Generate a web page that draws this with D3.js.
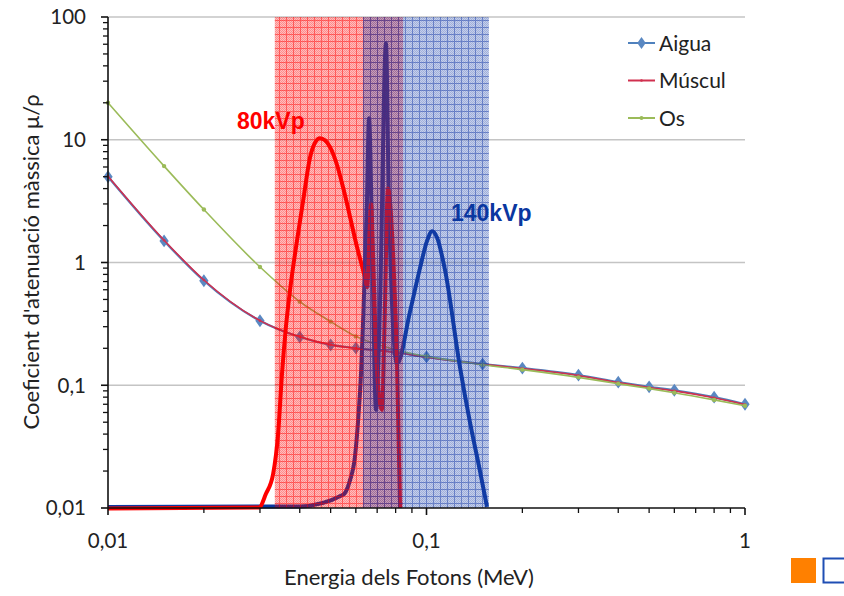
<!DOCTYPE html>
<html lang="ca">
	<head>
		<meta charset="utf-8">
		<title>Coeficient d'atenuació</title>
		<script src="https://d3js.org/d3.v7.min.js"></script>
		<style type="text/css">
			body, html {
				margin: 0;
				background: #fff;
			}
			svg {
				display: block;
			}
			.tick text, .axis-title, .legend text {
				font-family: Lato, "Open Sans", sans-serif;
				fill: #222;
			}
		</style>
	</head>
	<body>
		<svg width="844" height="596"></svg>
		<script type="text/javascript">
		// energies (MeV) of the NIST-style table points
		var energies = [0.01, 0.015, 0.02, 0.03, 0.04, 0.05, 0.06, 0.08, 0.1, 0.15, 0.2, 0.3, 0.4, 0.5, 0.6, 0.8, 1];
		var aigua  = [5.0, 1.5, 0.71, 0.335, 0.247, 0.213, 0.201, 0.186, 0.170, 0.149, 0.138, 0.121, 0.106, 0.097, 0.091, 0.080, 0.070];
		var muscul = [5.05, 1.52, 0.72, 0.336, 0.248, 0.214, 0.200, 0.185, 0.169, 0.148, 0.137, 0.120, 0.105, 0.096, 0.090, 0.079, 0.0695];
		var os     = [20, 6.1, 2.7, 0.92, 0.48, 0.33, 0.25, 0.195, 0.172, 0.147, 0.134, 0.116, 0.103, 0.094, 0.087, 0.076, 0.068];

		// 80 kVp spectrum (arbitrary scale)
		var spec80E = [0.01, 0.0298, 0.0313, 0.0330, 0.0342, 0.0352, 0.0362, 0.0373, 0.0392, 0.041, 0.0431, 0.0447, 0.0463, 0.048, 0.0498, 0.0524, 0.0547, 0.0605, 0.0641, 0.0651, 0.0670, 0.0679, 0.0694, 0.0715, 0.0725, 0.0738, 0.0757, 0.0785, 0.0808, 0.0826];
		var spec80V = [0.0099, 0.0101, 0.013, 0.019, 0.04, 0.126, 0.3, 0.6, 1.5, 3.2, 7.2, 9.5, 10.3, 9.9, 8.7, 6.2, 4.1, 1.34, 0.75, 0.63, 3.0, 1.2, 0.2, 0.07, 0.063, 0.3, 4.0, 1.2, 0.15, 0.01];

		// 140 kVp spectrum
		var spec140E = [0.01, 0.04, 0.0547, 0.0575, 0.0596, 0.0609, 0.0623, 0.0634, 0.0650, 0.0660, 0.0675, 0.0694, 0.0715, 0.0746, 0.0762, 0.0808, 0.0888, 0.0954, 0.1004, 0.1041, 0.1079, 0.1143, 0.1274, 0.1369, 0.1472, 0.1549];
		var spec140V = [0.0102, 0.0103, 0.0128, 0.0168, 0.026, 0.049, 0.126, 0.4, 3, 15, 1.5, 0.063, 0.5, 61, 3, 0.15, 0.4, 0.9, 1.5, 1.8, 1.6, 0.87, 0.14, 0.05, 0.02, 0.0102];

		// energy windows of the two beams
		var band80 = [0.0334, 0.0844];
		var band140 = [0.0632, 0.157];

		var yTicks = [0.01, 0.1, 1, 10, 100];
		var yTickLabels = ["0,01", "0,1", "1", "10", "100"];
		var xTicks = [0.01, 0.1, 1];
		var xTickLabels = ["0,01", "0,1", "1"];

		var seriesNames = ["Aigua", "Múscul", "Os"];
		var seriesColors = ["#4f81bd", "#d0304f", "#9bbb59"];

		var svg = d3.select("svg");

		var x = d3.scaleLog().domain([0.01, 1]).range([108, 745]);
		var y = d3.scaleLog().domain([0.01, 100]).range([508, 17]);

		// minor ticks 2..9 per decade
		function minorTicks(lo, hi) {
			var t = [];
			for (var p = Math.log10(lo); p < Math.log10(hi); p++) {
				for (var m = 2; m <= 9; m++) t.push(m * Math.pow(10, p));
			}
			return t;
		}

		// patterns for the shaded energy windows
		var defs = svg.append("defs");
		function makePatterns(id, base, dot, line) {
			var chk = defs.append("pattern")
				.attr("id", id + "Chk")
				.attr("patternUnits", "userSpaceOnUse")
				.attr("width", 2).attr("height", 2);
			chk.append("rect").attr("width", 2).attr("height", 2).attr("fill", base);
			chk.append("rect").attr("x", 0).attr("y", 0).attr("width", 1).attr("height", 1).attr("fill", dot);
			chk.append("rect").attr("x", 1).attr("y", 1).attr("width", 1).attr("height", 1).attr("fill", dot);
			var grid = defs.append("pattern")
				.attr("id", id + "Grid")
				.attr("patternUnits", "userSpaceOnUse")
				.attr("width", 7).attr("height", 7);
			grid.append("rect").attr("x", 0).attr("y", 6).attr("width", 7).attr("height", 1).attr("fill", line);
			grid.append("rect").attr("x", 6).attr("y", 0).attr("width", 1).attr("height", 6).attr("fill", line);
		}
		makePatterns("red", "rgba(255,0,0,0.26)", "rgba(255,0,0,0.26)", "rgba(255,0,0,0.45)");
		makePatterns("blue", "rgba(30,70,175,0.26)", "rgba(30,70,175,0.22)", "rgba(15,50,165,0.45)");

		// gridlines
		svg.append("g")
			.selectAll("line")
			.data(yTicks.slice(1))
			.enter()
			.append("line")
			.attr("x1", x(0.01)).attr("x2", x(1))
			.attr("y1", d => y(d)).attr("y2", d => y(d))
			.attr("stroke", "#c4c4c4")
			.attr("stroke-width", 1.3);

		// attenuation curves
		var smooth = d3.line()
			.x(d => x(d[0]))
			.y(d => y(d[1]))
			.curve(d3.curveMonotoneX);

		var series = [aigua, muscul, os];
		series.forEach(function(vals, i) {
			var pts = energies.map((e, j) => [e, vals[j]]);
			svg.append("path")
				.datum(pts)
				.attr("d", smooth)
				.attr("fill", "none")
				.attr("stroke", seriesColors[i])
				.attr("stroke-width", i == 0 ? 2.2 : 1.6);
			var g = svg.append("g");
			if (i == 0) {
				g.selectAll("path")
					.data(pts)
					.enter()
					.append("path")
					.attr("d", d3.symbol(d3.symbolDiamond, 48))
					.attr("transform", d => "translate(" + x(d[0]) + "," + y(d[1]) + ") scale(1.25,1)")
					.attr("fill", "#5a88c2");
			} else {
				g.selectAll("circle")
					.data(pts)
					.enter()
					.append("circle")
					.attr("cx", d => x(d[0]))
					.attr("cy", d => y(d[1]))
					.attr("r", i == 1 ? 1.3 : 2.2)
					.attr("fill", seriesColors[i]);
			}
		});

		// spectra
		var specLine = d3.line()
			.x(d => x(d[0]))
			.y(d => y(d[1]))
			.curve(d3.curveMonotoneX);

		svg.append("path")
			.datum(spec140E.map((e, j) => [e, spec140V[j]]))
			.attr("d", specLine)
			.attr("fill", "none")
			.attr("stroke", "#0a37a0")
			.attr("stroke-width", 4)
			.attr("stroke-linejoin", "round");

		svg.append("path")
			.datum(spec80E.map((e, j) => [e, spec80V[j]]))
			.attr("d", specLine)
			.attr("fill", "none")
			.attr("stroke", "#ff0000")
			.attr("stroke-width", 4)
			.attr("stroke-linejoin", "round");

		// shaded windows, drawn over the curves
		[[band80, "red"], [band140, "blue"]].forEach(function(b) {
			["Chk", "Grid"].forEach(function(p) {
				svg.append("rect")
					.attr("x", x(b[0][0]))
					.attr("y", y(100))
					.attr("width", x(b[0][1]) - x(b[0][0]))
					.attr("height", y(0.01) - y(100))
					.attr("fill", "url(#" + b[1] + p + ")");
			});
		});

		// axes
		var yAxis = svg.append("g")
			.attr("transform", "translate(" + x(0.01) + ",0)");
		yAxis.append("line")
			.attr("y1", y(100)).attr("y2", y(0.01))
			.attr("stroke", "#111").attr("stroke-width", 1.6);
		yAxis.selectAll("line.minor")
			.data(minorTicks(0.01, 100))
			.enter()
			.append("line")
			.attr("class", "minor")
			.attr("x1", -5).attr("x2", 0)
			.attr("y1", d => y(d)).attr("y2", d => y(d))
			.attr("stroke", "#111").attr("stroke-width", 1.3);
		var yt = yAxis.selectAll("g.tick")
			.data(yTicks)
			.enter()
			.append("g")
			.attr("class", "tick")
			.attr("transform", d => "translate(0," + y(d) + ")");
		yt.append("line").attr("x1", -7).attr("x2", 0).attr("stroke", "#111").attr("stroke-width", 1.6);
		yt.append("text")
			.attr("x", -22)
			.attr("dy", "0.36em")
			.attr("text-anchor", "end")
			.style("font-size", "20.5px")
			.text((d, i) => yTickLabels[i]);

		var xAxis = svg.append("g")
			.attr("transform", "translate(0," + y(0.01) + ")");
		xAxis.append("line")
			.attr("x1", x(0.01)).attr("x2", x(1))
			.attr("stroke", "#111").attr("stroke-width", 1.6);
		xAxis.selectAll("line.minor")
			.data(minorTicks(0.01, 1))
			.enter()
			.append("line")
			.attr("class", "minor")
			.attr("x1", d => x(d)).attr("x2", d => x(d))
			.attr("y1", 0).attr("y2", 5)
			.attr("stroke", "#111").attr("stroke-width", 1.3);
		var xt = xAxis.selectAll("g.tick")
			.data(xTicks)
			.enter()
			.append("g")
			.attr("class", "tick")
			.attr("transform", d => "translate(" + x(d) + ",0)");
		xt.append("line").attr("y1", 0).attr("y2", 7).attr("stroke", "#111").attr("stroke-width", 1.6);
		xt.append("text")
			.attr("y", 40)
			.attr("text-anchor", "middle")
			.style("font-size", "20.5px")
			.text((d, i) => xTickLabels[i]);

		// axis titles
		svg.append("text")
			.attr("class", "axis-title")
			.attr("x", 409)
			.attr("y", 585)
			.attr("text-anchor", "middle")
			.style("font-size", "22px")
			.text("Energia dels Fotons (MeV)");
		svg.append("text")
			.attr("class", "axis-title")
			.attr("transform", "translate(39," + 262 + ") rotate(-90)")
			.attr("text-anchor", "middle")
			.style("font-size", "22px")
			.text("Coeficient d'atenuació màssica μ/ρ");

		// spectrum labels
		svg.append("text")
			.attr("x", 237).attr("y", 129)
			.style("font-family", "'Liberation Sans', Arial, sans-serif")
			.style("font-weight", "bold")
			.style("font-size", "23px")
			.attr("fill", "#ff0000")
			.text("80kVp");
		svg.append("text")
			.attr("x", 451).attr("y", 221)
			.style("font-family", "'Liberation Sans', Arial, sans-serif")
			.style("font-weight", "bold")
			.style("font-size", "23px")
			.attr("fill", "#0a37a0")
			.text("140kVp");

		// legend
		var legend = svg.append("g").attr("class", "legend");
		var li = legend.selectAll("g")
			.data(seriesNames)
			.enter()
			.append("g")
			.attr("transform", (d, i) => "translate(628," + (43 + i * 37.5) + ")");
		li.append("line")
			.attr("x1", 0).attr("x2", 27)
			.attr("stroke", (d, i) => seriesColors[i])
			.attr("stroke-width", 2);
		li.filter((d, i) => i == 0)
			.append("path")
			.attr("d", d3.symbol(d3.symbolDiamond, 40))
			.attr("transform", "translate(13.5,0) scale(1.25,1)")
			.attr("fill", "#5a88c2");
		li.filter((d, i) => i > 0)
			.append("circle")
			.attr("cx", 13.5)
			.attr("r", (d, i) => i == 0 ? 1.3 : 2)
			.attr("fill", (d, i) => seriesColors[i + 1]);
		li.append("text")
			.attr("x", 31)
			.attr("dy", "0.36em")
			.style("font-size", "21px")
			.text(d => d);

		// slide decoration in the corner
		svg.append("rect")
			.attr("x", 791).attr("y", 558)
			.attr("width", 25).attr("height", 25)
			.attr("fill", "#ff8000");
		svg.append("rect")
			.attr("x", 823.5).attr("y", 558.5)
			.attr("width", 25).attr("height", 24)
			.attr("fill", "none")
			.attr("stroke", "#1f4eb4")
			.attr("stroke-width", 2);
		</script>
	</body>
</html>
